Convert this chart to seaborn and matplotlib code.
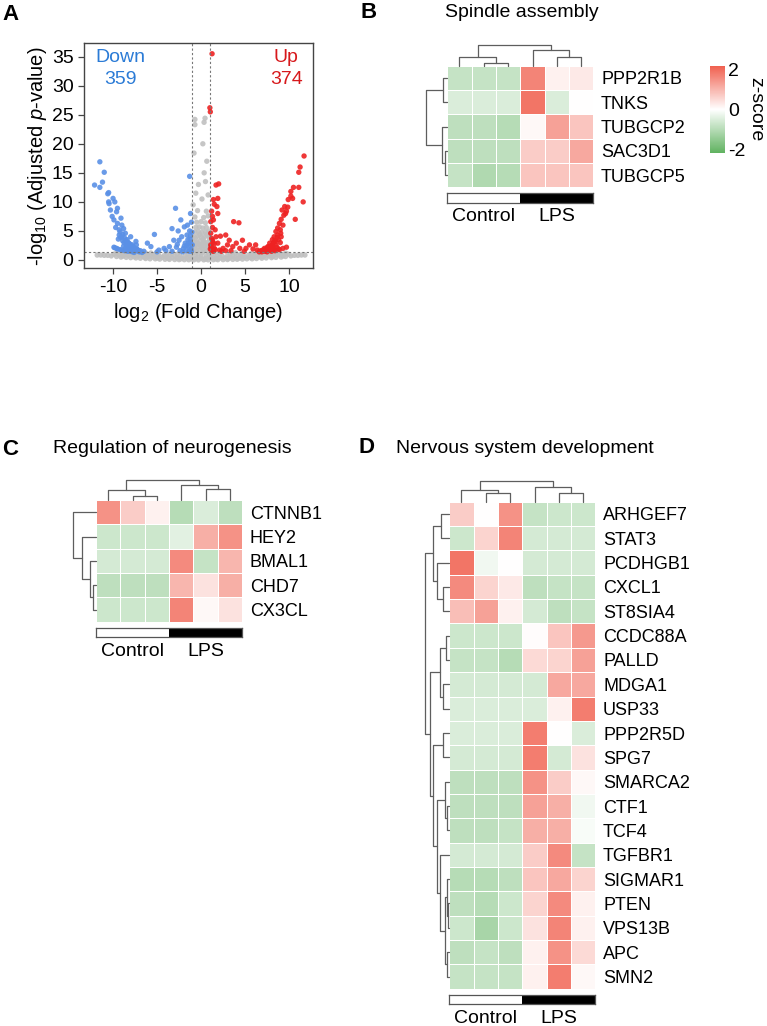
import numpy as np
import pandas as pd
import matplotlib
matplotlib.use("Agg")
import matplotlib.pyplot as plt
import seaborn as sns
from matplotlib.colors import LinearSegmentedColormap, ListedColormap

sns.set_theme(style="white")
plt.rcParams['font.family'] = ['Liberation Sans', 'DejaVu Sans']
plt.rcParams['mathtext.fontset'] = 'custom'
plt.rcParams['mathtext.rm'] = 'Liberation Sans'
plt.rcParams['mathtext.it'] = 'Liberation Sans:italic'
plt.rcParams['axes.unicode_minus'] = False
for key in ['text.color', 'axes.labelcolor', 'xtick.labelcolor', 'ytick.labelcolor']:
    plt.rcParams[key] = 'black'

# ---------------- volcano data (estimated from the figure) ----------------
down_x = [-11.5, -11.0, -12.1, -11.5, -11.2, -10.5, -10.6, -10.0, -9.8, -10.5, -10.45, -9.5,
          -10.3, -9.6, -10.1, -9.9, -9.1, -9.5, -9.0, -8.8, -9.3, -8.6, -9.0, -8.4, -8.0, -8.2,
          -7.8, -7.6, -7.2, -7.4, -7.0, -6.7, -7.6, -9.9, -9.5, -9.0, -8.5, -8.0, -9.2, -8.9,
          -8.7, -8.5, -8.3, -8.1, -7.9, -7.7, -7.5, -7.3, -7.1, -6.9, -8.8, -8.6, -8.2, -7.8,
          -9.4, -9.7, -9.3, -8.9, -9.6, -9.2, -8.7, -8.3, -9.8,
          -8.45, -8.05, -7.65, -7.25, -8.75, -8.35, -7.95, -9.15, -8.55, -7.35,
          -5.3, -6.1, -2.9, -3.3, -2.3, -1.9, -1.55, -2.6, -4.2, -5.7, -4.8, -3.6, -3.1, -2.5,
          -2.2, -1.8, -1.6, -1.3, -1.2, -1.1, -1.4, -1.7, -2.0, -2.4, -2.8, -3.3, -1.2, -1.5,
          -1.9, -2.7, -6.5, -5.0, -4.0, -1.3, -1.1, -1.2, -2.1, -1.0,
          -1.15, -1.35, -1.6, -1.25, -1.45, -1.05]
down_y = [16.9, 15.1, 12.9, 12.5, 13.4, 11.6, 11.4, 10.6, 10.0, 10.0, 9.7, 8.9,
          8.6, 8.3, 7.5, 6.9, 7.2, 6.3, 6.0, 5.4, 5.2, 4.6, 4.0, 3.5, 4.0, 2.9,
          2.6, 2.0, 1.7, 3.2, 1.4, 1.3, 1.3, 2.2, 1.9, 1.7, 1.6, 1.5, 4.8, 3.3,
          3.8, 2.6, 3.0, 2.2, 1.9, 2.3, 1.6, 1.9, 1.5, 1.6, 2.4, 2.0, 1.8, 1.4,
          3.6, 5.6, 4.3, 4.4, 2.0, 1.8, 1.6, 1.5, 2.1,
          3.1, 2.7, 2.1, 1.8, 3.0, 2.4, 1.7, 3.9, 3.4, 2.6,
          4.4, 2.9, 8.9, 5.4, 6.9, 5.7, 6.0, 5.0, 2.0, 2.3, 1.7, 2.3, 3.4, 3.4,
          4.0, 2.9, 4.3, 14.4, 8.0, 1.5, 2.2, 1.6, 2.0, 1.6, 2.2, 1.5, 3.0, 3.5,
          2.4, 2.7, 1.5, 1.4, 1.6, 5.0, 6.5, 4.2, 1.4, 2.6,
          1.9, 1.5, 2.5, 3.6, 2.9, 4.8]

up_x = [11.7, 11.25, 11.1, 11.6, 10.5, 10.2, 10.2, 11.1, 9.9, 10.4, 9.5, 9.7, 9.2, 9.4,
        9.85, 10.7, 9.1, 8.9, 8.7, 8.5, 8.3, 8.1, 7.8, 7.6, 7.2, 7.0, 6.8, 6.6, 9.3, 9.0,
        8.7, 8.45, 8.1, 8.8, 8.5, 8.2, 7.85, 9.1, 7.4, 7.8, 8.3, 8.8, 9.3, 9.7, 8.0, 7.5,
        9.6, 9.0, 8.6, 7.3, 6.9, 8.9, 8.4,
        8.25, 7.95, 7.65, 7.15, 8.65, 8.35, 7.55, 9.05, 8.05, 7.25,
        1.25, 1.0, 1.05, 1.7, 2.0, 1.4, 1.9, 1.5, 1.8, 1.2, 1.1, 1.4, 1.6, 1.1,
        3.7, 4.3, 2.8, 2.2, 3.2, 4.0, 4.7, 5.5, 6.2, 5.1, 5.9, 4.4, 3.6, 3.0, 2.5, 1.9,
        1.3, 1.1, 1.5, 2.1, 2.8, 1.25, 1.7, 1.2, 1.4, 1.6, 2.3, 3.4, 4.9, 6.4, 1.3, 1.9,
        1.15, 1.35, 1.2, 1.5, 1.05, 1.3]
up_y = [17.9, 16.0, 15.1, 10.0, 12.5, 11.8, 11.0, 12.5, 10.4, 10.6, 9.2, 8.4, 8.6, 7.7,
        9.1, 7.0, 7.0, 6.3, 5.5, 4.9, 4.0, 3.5, 2.9, 2.3, 2.0, 1.7, 1.6, 1.4, 6.0, 5.2,
        4.3, 3.2, 2.6, 3.5, 2.6, 2.0, 1.7, 4.0, 1.6, 1.7, 1.8, 1.9, 2.0, 2.2, 1.5, 1.4,
        8.0, 3.0, 2.2, 1.5, 1.4, 1.8, 1.6,
        3.0, 2.4, 1.9, 1.6, 3.9, 3.3, 2.2, 4.6, 2.0, 1.8,
        35.5, 26.2, 25.5, 12.9, 13.1, 10.4, 10.6, 9.6, 9.2, 8.4, 6.6, 6.9, 5.2, 4.6,
        6.6, 6.4, 4.3, 4.1, 3.4, 2.9, 3.4, 2.6, 2.6, 2.0, 1.9, 2.0, 2.3, 2.6, 2.0, 2.9,
        3.4, 2.6, 2.0, 1.7, 1.6, 1.6, 4.0, 2.0, 1.5, 1.8, 1.5, 1.6, 1.5, 1.7, 7.5, 8.0,
        2.3, 3.0, 3.7, 2.8, 1.9, 5.6]

band_x = [-10.2, -9.6, -9.1, -8.5, -8.0, -7.4, -6.9, -6.3, -5.8, -5.2, -4.7, -4.1, -3.6, -3.0,
          -2.5, -1.9, -1.4, -0.8, -0.3, 0.3, 0.8, 1.4, 1.9, 2.5, 3.0, 3.6, 4.1, 4.7, 5.2, 5.8,
          6.3, 6.9, 7.4, 8.0, 8.5, 9.1, 9.6, 10.2,
          -9.9, -9.35, -8.8, -8.25, -7.7, -7.15, -6.6, -6.05, -5.5, -4.95, -4.4, -3.85, -3.3,
          -2.75, -2.2, -1.65, -1.1, -0.55, 0.0, 0.55, 1.1, 1.65, 2.2, 2.75, 3.3, 3.85, 4.4,
          4.95, 5.5, 6.05, 6.6, 7.15, 7.7, 8.25, 8.8, 9.35, 9.9,
          -9.6, -9.0, -8.4, -7.8, -7.2, -6.6, -6.0, -5.4, -4.8, -4.2, -3.6, -3.0, -2.4, -1.8,
          -1.2, -0.6, 0.0, 0.6, 1.2, 1.8, 2.4, 3.0, 3.6, 4.2, 4.8, 5.4, 6.0, 6.6, 7.2, 7.8,
          8.4, 9.0, 9.6,
          -6.3, -5.1, -3.9, -2.7, -1.5, -0.3, 0.9, 2.1, 3.3, 4.5, 5.7, 6.9,
          -8.9, -7.6, -6.4, -5.0, -3.7, -2.3, -1.0, 0.5, 1.7, 3.1, 4.3, 5.6, 6.8, 8.1, 9.3,
          -8.1, -5.7, -3.3, -0.9, 0.2, 1.5, 3.9, 6.3, 8.7]
band_y = [0.7, 0.6, 0.5, 0.45, 0.4, 0.35, 0.3, 0.25, 0.2, 0.2, 0.15, 0.12, 0.1, 0.08,
          0.06, 0.05, 0.04, 0.03, 0.02, 0.02, 0.03, 0.04, 0.05, 0.06, 0.08, 0.1, 0.12, 0.15, 0.2, 0.2,
          0.25, 0.3, 0.35, 0.4, 0.45, 0.5, 0.6, 0.7,
          1.0, 0.9, 0.85, 0.8, 0.75, 0.7, 0.6, 0.55, 0.5, 0.5, 0.45, 0.4, 0.4,
          0.35, 0.35, 0.35, 0.35, 0.3, 0.3, 0.3, 0.35, 0.35, 0.35, 0.35, 0.4, 0.4, 0.45,
          0.5, 0.5, 0.55, 0.6, 0.7, 0.75, 0.8, 0.85, 0.9, 1.0,
          1.2, 1.15, 1.1, 1.05, 1.0, 0.95, 0.9, 0.85, 0.8, 0.75, 0.75, 0.7, 0.7, 0.7,
          0.7, 0.65, 0.65, 0.65, 0.7, 0.7, 0.7, 0.7, 0.75, 0.75, 0.8, 0.85, 0.9, 0.95, 1.0, 1.05,
          1.1, 1.15, 1.2,
          1.2, 1.1, 1.05, 1.0, 1.1, 1.0, 1.05, 1.1, 1.0, 1.05, 1.1, 1.2,
          0.65, 0.55, 0.45, 0.35, 0.3, 0.2, 0.15, 0.15, 0.2, 0.25, 0.3, 0.4, 0.5, 0.6, 0.7,
          1.25, 1.2, 1.25, 1.2, 1.25, 1.2, 1.25, 1.2, 1.25]
column_x = [-0.9, -0.5, -0.1, 0.3, 0.7, -0.8, -0.4, 0.0, 0.4, 0.8, -0.9, -0.5, -0.1, 0.3, 0.7,
            -0.8, -0.4, 0.0, 0.4, 0.8, -0.7, -0.3, 0.1, 0.5, 0.9, -0.6, -0.2, 0.2, 0.6,
            -0.5, 0.0, 0.5, -0.7, 0.3, 0.8, -0.4, 0.6, -0.9, 0.1,
            -0.95, -0.7, -0.45, -0.2, 0.05, 0.3, 0.55, 0.75, 0.95, -0.65, -0.15, 0.25, 0.65,
            -0.6, 0.8, -0.3, 0.5, -0.8, 0.35, 0.65, 0.2, -0.7, 0.45, 0.34, -0.7]
column_y = [1.6, 1.5, 1.7, 1.6, 1.5, 2.4, 2.3, 2.5, 2.4, 2.3, 3.2, 3.1, 3.3, 3.2, 3.0,
            4.0, 4.1, 3.9, 4.0, 4.2, 4.8, 4.9, 4.7, 4.8, 5.0, 5.6, 5.7, 5.5, 5.6,
            6.5, 6.6, 6.4, 7.4, 7.3, 7.6, 8.5, 8.4, 9.5, 10.5,
            1.9, 2.0, 2.8, 2.7, 2.1, 2.9, 2.0, 2.7, 3.6, 3.7, 4.4, 3.6, 4.4,
            11.5, 11.2, 13.0, 13.5, 18.4, 15.0, 17.0, 20.0, 23.3, 24.4, 23.7, 24.2]
tail_x = [-11.8, -11.4, -11.0, -10.6, 10.6, 11.0, 11.4, 11.8]
tail_y = [0.85, 0.85, 0.8, 0.8, 0.8, 0.8, 0.85, 0.85]

# ---------------- heatmap data (z-scores) ----------------
samples = ['C1', 'C2', 'C3', 'L1', 'L2', 'L3']

spindle_genes = ['PPP2R1B', 'TNKS', 'TUBGCP2', 'SAC3D1', 'TUBGCP5']
spindle_z = [[-0.8, -0.8, -0.8, 1.7, 0.2, 0.3],
             [-0.5, -0.5, -0.5, 1.9, -0.5, 0.0],
             [-0.9, -0.9, -1.0, 0.1, 1.3, 0.8],
             [-0.9, -0.9, -0.9, 0.7, 0.7, 1.2],
             [-0.8, -1.1, -1.0, 0.8, 0.8, 0.8]]
spindle_row_tree = [(3, 4, 7), (0, 1, 12), (2, 5, 17), (6, 7, 62)]
spindle_col_tree = [(1, 2, 9), (4, 5, 27), (0, 6, 27), (3, 7, 45), (8, 9, 62)]

neuro_genes = ['CTNNB1', 'HEY2', 'BMAL1', 'CHD7', 'CX3CL']
neuro_z = [[1.5, 0.7, 0.2, -1.0, -0.5, -0.9],
           [-0.7, -0.7, -0.7, -0.4, 1.1, 1.5],
           [-0.6, -0.6, -0.6, 1.6, -0.8, 1.0],
           [-0.9, -0.9, -0.9, 1.0, 0.4, 1.1],
           [-0.7, -0.7, -0.7, 1.7, 0.1, 0.4]]
neuro_row_tree = [(3, 4, 8), (2, 5, 18), (1, 6, 40), (0, 7, 68)]
neuro_col_tree = [(1, 2, 12), (0, 6, 30), (4, 5, 32), (3, 8, 45), (7, 9, 60)]

nerv_genes = ['ARHGEF7', 'STAT3', 'PCDHGB1', 'CXCL1', 'ST8SIA4', 'CCDC88A', 'PALLD', 'MDGA1',
              'USP33', 'PPP2R5D', 'SPG7', 'SMARCA2', 'CTF1', 'TCF4', 'TGFBR1', 'SIGMAR1',
              'PTEN', 'VPS13B', 'APC', 'SMN2']
nerv_z = [[0.7, 0.0, 1.5, -0.8, -0.7, -0.7],
          [-0.7, 0.6, 1.7, -0.6, -0.6, -0.6],
          [1.9, -0.2, 0.0, -0.6, -0.6, -0.6],
          [1.6, 0.6, 0.3, -0.9, -0.8, -0.8],
          [0.9, 1.3, 0.2, -0.6, -0.9, -0.8],
          [-0.7, -0.7, -0.7, 0.05, 0.8, 1.4],
          [-0.8, -0.8, -1.0, 0.5, 0.6, 1.3],
          [-0.6, -0.6, -0.6, -0.6, 1.2, 1.2],
          [-0.5, -0.5, -0.5, -0.5, 0.2, 1.8],
          [-0.5, -0.5, -0.5, 1.8, 0.0, -0.5],
          [-0.6, -0.6, -0.6, 1.8, -0.6, 0.4],
          [-0.9, -0.9, -0.9, 1.5, 0.7, 0.1],
          [-0.9, -0.9, -0.9, 1.3, 1.1, -0.2],
          [-0.9, -0.9, -0.8, 1.1, 1.1, -0.1],
          [-0.6, -0.6, -0.6, 0.7, 1.6, -0.8],
          [-1.0, -1.0, -0.9, 0.8, 1.2, 0.6],
          [-0.9, -1.0, -0.7, 0.6, 1.6, 0.2],
          [-0.7, -1.2, -0.7, 0.4, 1.7, 0.2],
          [-0.9, -0.8, -0.9, 0.2, 1.5, 0.5],
          [-0.8, -0.8, -0.8, 0.2, 1.8, 0.1]]
nerv_row_tree = [(16, 17, 1), (12, 13, 2), (18, 19, 2.5), (15, 20, 2.5), (5, 6, 3),
                 (11, 21, 4), (23, 22, 4), (3, 4, 6), (9, 10, 6), (7, 8, 6.6),
                 (0, 1, 8), (14, 26, 9), (24, 29, 9), (2, 27, 12), (25, 31, 12),
                 (30, 33, 16), (28, 34, 16), (32, 36, 19), (35, 37, 24)]
nerv_col_tree = [(1, 2, 27), (4, 5, 27), (0, 6, 35), (3, 7, 43), (8, 9, 63)]

groups = ['Control', 'LPS']
group_of_sample = [0, 0, 0, 1, 1, 1]

# ---------------- figure ----------------
W, H = 767, 1026
fig = plt.figure(figsize=(W / 100, H / 100), dpi=100)


def px_axes(left, top, width, height):
    return fig.add_axes([left / W, 1 - (top + height) / H, width / W, height / H])


def fig_text(x, y, s, **kw):
    fig.text(x / W, 1 - y / H, s, **kw)


cmap = LinearSegmentedColormap.from_list('gwr', ['#60b260', '#ffffff', '#f0604f'])
CELL = 24.35
DCOL = '#5e5e5e'


def tree_lines(merges, n):
    pos = {i: i + 0.5 for i in range(n)}
    hgt = {i: 0.0 for i in range(n)}
    segs = []
    for k, (a, b, h) in enumerate(merges):
        segs.append(([pos[a], pos[a], pos[b], pos[b]], [hgt[a], h, h, hgt[b]]))
        pos[n + k] = (pos[a] + pos[b]) / 2
        hgt[n + k] = h
    return segs


def heat_panel(genes, z, row_tree, col_tree, left, top, row_w, col_h, cbar_ax=None):
    nr, nc = len(genes), len(samples)
    hw, hh = nc * CELL, nr * CELL
    ax = px_axes(left, top, hw, hh)
    df = pd.DataFrame(z, index=genes, columns=samples)
    kws = dict(cmap=cmap, vmin=-2.2, vmax=2.2, linewidths=0.7, linecolor='white',
               xticklabels=False, yticklabels=True, ax=ax)
    if cbar_ax is None:
        sns.heatmap(df, cbar=False, **kws)
    else:
        sns.heatmap(df, cbar=True, cbar_ax=cbar_ax, cbar_kws={'ticks': [-2, 0, 2]}, **kws)
    ax.yaxis.tick_right()
    ax.tick_params(axis='y', length=0, labelsize=13, pad=5.5, labelrotation=0)
    ax.set_ylabel('')
    ax.set_xlabel('')

    # row dendrogram
    axr = px_axes(left - row_w, top, row_w, hh)
    for xs, ys in tree_lines(row_tree, nr):
        axr.plot(ys, xs, color=DCOL, lw=0.9, clip_on=False)
    axr.set_xlim(row_tree[-1][2], 0)
    axr.set_ylim(nr, 0)
    axr.axis('off')

    # column dendrogram
    axc = px_axes(left, top - col_h, hw, col_h)
    for xs, ys in tree_lines(col_tree, nc):
        axc.plot(xs, ys, color=DCOL, lw=0.9, clip_on=False)
    axc.set_xlim(0, nc)
    axc.set_ylim(0, col_tree[-1][2])
    axc.axis('off')

    # group annotation bar
    axa = px_axes(left, top + hh + 6, hw, 9.4)
    sns.heatmap(pd.DataFrame([group_of_sample]), cmap=ListedColormap(['white', 'black']),
                vmin=0, vmax=1, cbar=False, xticklabels=False, yticklabels=False, ax=axa)
    for sp in axa.spines.values():
        sp.set_visible(True)
        sp.set_color('#555555')
        sp.set_linewidth(0.9)
    axa.set_xticks([1.5, 4.5])
    axa.set_xticklabels(groups, fontsize=14)
    axa.tick_params(axis='x', length=0, pad=4)
    return ax


# ---------------- A: volcano ----------------
vol = pd.concat([
    pd.DataFrame({'log2fc': band_x + column_x + tail_x,
                  'nlogp': band_y + column_y + tail_y, 'group': 'ns'}),
    pd.DataFrame({'log2fc': down_x, 'nlogp': down_y, 'group': 'Down'}),
    pd.DataFrame({'log2fc': up_x, 'nlogp': up_y, 'group': 'Up'}),
], ignore_index=True)

axv = px_axes(84, 43.3, 229.3, 225)
sns.scatterplot(data=vol, x='log2fc', y='nlogp', hue='group',
                palette={'ns': '#c0c0c0', 'Down': '#5a90e6', 'Up': '#ee2222'},
                s=15, linewidth=0, alpha=0.9, legend=False, ax=axv)
axv.axvline(-1, color='#777777', lw=0.8, ls=(0, (2, 2)))
axv.axvline(1, color='#777777', lw=0.8, ls=(0, (2, 2)))
axv.axhline(1.3, color='#777777', lw=0.8, ls=(0, (2, 2)))
axv.set_xlim(-13.3, 12.75)
axv.set_ylim(-1.43, 37.3)
axv.set_xticks([-10, -5, 0, 5, 10])
axv.set_yticks([0, 5, 10, 15, 20, 25, 30, 35])
for sp in axv.spines.values():
    sp.set_color('#444444')
    sp.set_linewidth(1.0)
axv.tick_params(direction='out', length=4.5, width=0.9, color='#444444',
                labelsize=14, pad=3, bottom=True, left=True)
axv.set_xlabel(r'log$_2$ (Fold Change)', fontsize=14.5, labelpad=4)
axv.set_ylabel(r'-log$_{10}$ (Adjusted $p$-value)', fontsize=14.5, labelpad=2)
axv.text(-9.2, 34.8, 'Down', color='#2b7bd6', fontsize=14, ha='center', va='center')
axv.text(-9.2, 31.0, '359', color='#2b7bd6', fontsize=14, ha='center', va='center')
axv.text(9.66, 34.8, 'Up', color='#d7191c', fontsize=14, ha='center', va='center')
axv.text(9.66, 31.0, '374', color='#d7191c', fontsize=14, ha='center', va='center')

# ---------------- B, C, D: heatmaps ----------------
cax = px_axes(710, 66, 15, 87)
axb = heat_panel(spindle_genes, spindle_z, spindle_row_tree, spindle_col_tree,
                 447.3, 65.7, 21, 21, cbar_ax=cax)
cb = axb.collections[0].colorbar
cb.outline.set_visible(False)
cax.tick_params(length=0, labelsize=14, pad=2)
cb.set_label('z-score', rotation=270, fontsize=14, labelpad=14)

heat_panel(neuro_genes, neuro_z, neuro_row_tree, neuro_col_tree, 96, 500, 23, 20)
heat_panel(nerv_genes, nerv_z, nerv_row_tree, nerv_col_tree, 449.3, 501.7, 24, 21)

# ---------------- titles and panel letters ----------------
fig_text(2, 20, 'A', fontsize=16, fontweight='bold', va='baseline')
fig_text(360, 18.3, 'B', fontsize=16, fontweight='bold', va='baseline')
fig_text(2, 455, 'C', fontsize=16, fontweight='bold', va='baseline')
fig_text(358, 453.3, 'D', fontsize=16, fontweight='bold', va='baseline')
fig_text(445, 17.3, 'Spindle assembly', fontsize=14, va='baseline')
fig_text(53.3, 453.3, 'Regulation of neurogenesis', fontsize=14, va='baseline')
fig_text(396, 453.3, 'Nervous system development', fontsize=14, va='baseline')

fig.savefig('out.png', dpi=100)
